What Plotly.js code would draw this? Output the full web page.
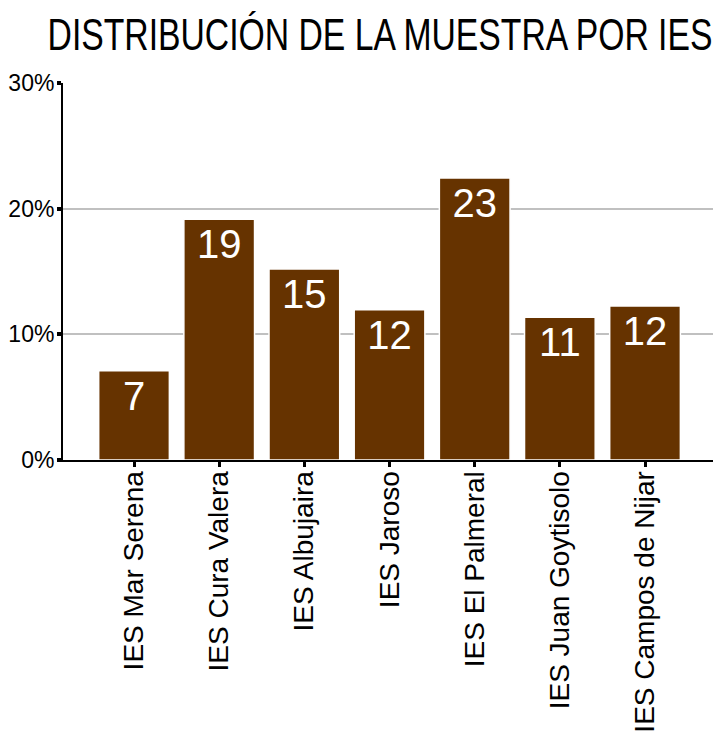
<!DOCTYPE html>
<html>
<head>
<meta charset="utf-8">
<script src="https://cdn.plot.ly/plotly-3.0.1.min.js"></script>
<style>html,body{margin:0;padding:0;background:#fff;}#chart{width:716px;height:734px;}</style>
</head>
<body>
<div id="chart"></div>
<script>
const categories = ["IES Mar Serena", "IES Cura Valera", "IES Albujaira", "IES Jaroso", "IES El Palmeral", "IES Juan Goytisolo", "IES Campos de Nijar"];
const percentValues = [7.1, 19.15, 15.2, 11.95, 22.45, 11.35, 12.25];
const barLabels = ["7", "19", "15", "12", "23", "11", "12"];
const yTickValues = [0, 10, 20, 30];
const yTickLabels = ["0%", "10%", "20%", "30%"];
const titleText = "DISTRIBUCIÓN DE LA MUESTRA POR IES";

const trace = {
  type: "bar",
  x: categories,
  y: percentValues,
  text: barLabels,
  textposition: "inside",
  insidetextanchor: "end",
  textangle: 0,
  constraintext: "none",
  textfont: {family: "Liberation Sans, Arial, sans-serif", size: 40, color: "#ffffff"},
  marker: {color: "#663300", line: {color: "#ffffff", width: 1.5}},
  width: 0.83,
  hoverinfo: "none"
};

const layout = {
  width: 716,
  height: 734,
  margin: {l: 63, r: 3, t: 83, b: 274},
  paper_bgcolor: "#ffffff",
  plot_bgcolor: "#ffffff",
  showlegend: false,
  title: {
    text: titleText,
    font: {family: "Liberation Sans, Arial, sans-serif", size: 44, color: "#000000"},
    x: 0.53, xanchor: "center",
    y: 0.953, yanchor: "middle"
  },
  xaxis: {
    type: "category",
    range: [-0.834, 6.798],
    showgrid: false,
    showline: true,
    linecolor: "#000000",
    linewidth: 2,
    ticks: "outside",
    ticklen: 5,
    tickwidth: 3,
    tickcolor: "#000000",
    tickangle: -90,
    ticklabelstandoff: -7,
    tickfont: {family: "Liberation Sans, Arial, sans-serif", size: 28, color: "#000000"},
    zeroline: false,
    fixedrange: true
  },
  yaxis: {
    range: [0, 30],
    tickvals: yTickValues,
    ticktext: yTickLabels,
    showgrid: true,
    gridcolor: "#c0c0c0",
    gridwidth: 1.8,
    showline: true,
    linecolor: "#000000",
    linewidth: 2,
    ticks: "outside",
    ticklen: 4,
    tickwidth: 4,
    tickcolor: "#000000",
    ticklabelstandoff: -2,
    tickfont: {family: "Liberation Sans, Arial, sans-serif", size: 23, color: "#000000"},
    zeroline: false,
    fixedrange: true
  }
};

Plotly.newPlot("chart", [trace], layout, {displayModeBar: false, staticPlot: true}).then(function (gd) {
  // Narrow the title horizontally to mimic the condensed typeface of the original
  const t = gd.querySelector(".gtitle");
  if (t) {
    const bb = t.getBBox();
    const targetWidth = 665;
    const targetCenter = 380;
    const s = targetWidth / bb.width;
    const cx = bb.x + bb.width / 2;
    t.setAttribute("transform", "translate(" + targetCenter + ",0) scale(" + s + ",1) translate(" + (-cx) + ",0)");
  }
});
</script>
</body>
</html>
